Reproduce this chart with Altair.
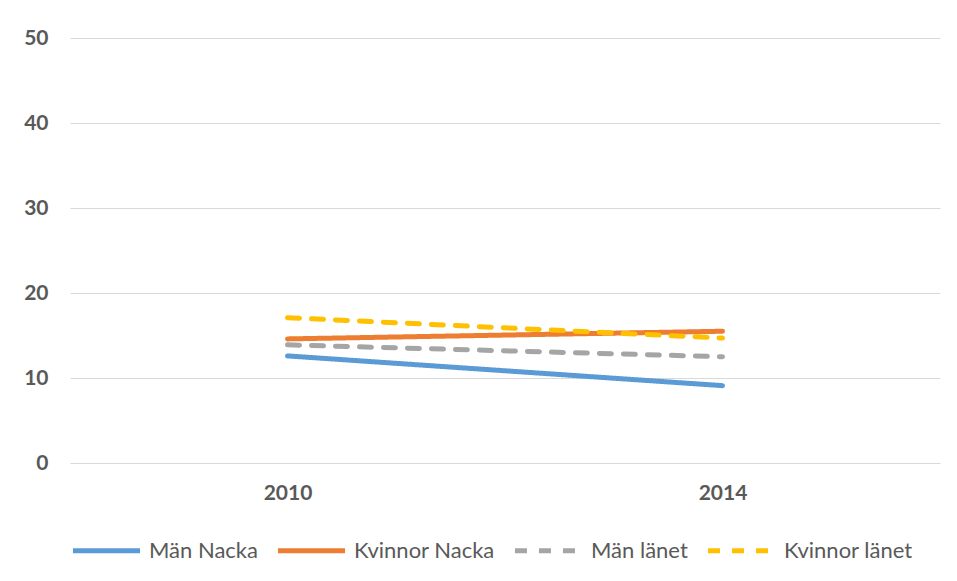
import altair as alt
import pandas as pd

years = ["2010", "2014"]
series = ["Män Nacka", "Kvinnor Nacka", "Män länet", "Kvinnor länet"]
man_nacka = [12.6, 9.1]
kvinnor_nacka = [14.6, 15.5]
man_lanet = [13.9, 12.5]
kvinnor_lanet = [17.1, 14.7]
colors = ["#5B9BD5", "#ED7D31", "#A5A5A5", "#FFC000"]
dashes = [[1, 0], [1, 0], [12, 12], [12, 12]]

rows = []
for name, vals in zip(series, [man_nacka, kvinnor_nacka, man_lanet, kvinnor_lanet]):
    for y, v in zip(years, vals):
        rows.append({"År": y, "Serie": name, "Värde": v})
df = pd.DataFrame(rows)

FONT = "Lato"
GREY = "#595959"

legend = alt.Legend(orient="none", legendX=0, legendY=476,
                    direction="horizontal", symbolType="stroke",
                    symbolSize=4500, symbolStrokeWidth=5,
                    labelFont=FONT, labelFontSize=22, labelColor=GREY,
                    labelOffset=6, columnPadding=9, padding=0)

chart = alt.Chart(df).mark_line(strokeWidth=5, strokeCap="round").encode(
    x=alt.X("År:O", title=None,
            scale=alt.Scale(type="point", padding=0.5),
            axis=alt.Axis(labelAngle=0, ticks=False, domain=False, grid=False,
                          labelFont=FONT, labelFontSize=21, labelFontWeight="bold",
                          labelColor=GREY, labelPadding=19)),
    y=alt.Y("Värde:Q", title=None,
            scale=alt.Scale(domain=[0, 50], nice=False),
            axis=alt.Axis(values=[0, 10, 20, 30, 40, 50], ticks=False, domain=False,
                          grid=True, gridColor="#D9D9D9", gridWidth=1,
                          labelFont=FONT, labelFontSize=21, labelFontWeight="bold",
                          labelColor=GREY, labelPadding=22)),
    color=alt.Color("Serie:N", title=None,
                    scale=alt.Scale(domain=series, range=colors),
                    legend=legend),
    strokeDash=alt.StrokeDash("Serie:N", title=None,
                              scale=alt.Scale(domain=series, range=dashes),
                              legend=legend),
).properties(
    width=870, height=425,
    autosize=alt.AutoSizeParams(type="none"),
    padding={"left": 62, "top": 30, "right": 9, "bottom": 108},
).configure_view(stroke=None)

chart.save("out.html", embed_options={"renderer": "svg", "actions": False})
